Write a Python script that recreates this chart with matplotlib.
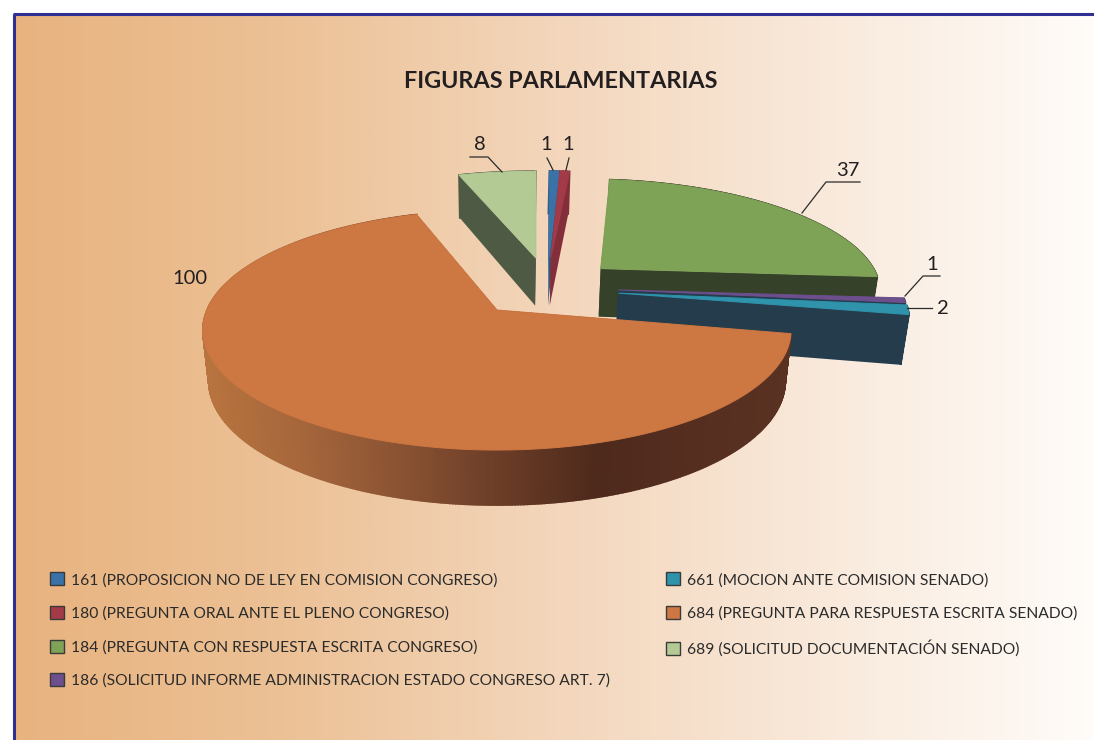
import matplotlib
matplotlib.use('Agg')
import matplotlib.pyplot as plt
import numpy as np
from matplotlib.colors import LinearSegmentedColormap
from matplotlib.patches import Patch

plt.rcParams['font.family'] = ['Lato', 'DejaVu Sans']

title = 'FIGURAS PARLAMENTARIAS'
labels = ['161 (PROPOSICION NO DE LEY EN COMISION CONGRESO)',
          '180 (PREGUNTA ORAL ANTE EL PLENO CONGRESO)',
          '184 (PREGUNTA CON RESPUESTA ESCRITA CONGRESO)',
          '186 (SOLICITUD INFORME ADMINISTRACION ESTADO CONGRESO ART. 7)',
          '661 (MOCION ANTE COMISION SENADO)',
          '684 (PREGUNTA PARA RESPUESTA ESCRITA SENADO)',
          '689 (SOLICITUD DOCUMENTACIÓN SENADO)']
values = [1, 1, 37, 1, 2, 100, 8]

top_colors = ['#3A72A8', '#A23B47', '#7FA356', '#6C4F8C', '#2F93AB', '#CD7742', '#B3CA95']
wall_colors = ['#2E5A84', '#842E3C', '#36412A', '#243C4C', '#243C4C', '#4E2A1C', '#4F5A44']

# how far each slice is pulled out, and a small turn, in pie units
explode_u = [0.194, 0.201, 0.38, 0.43, 0.429, 0.0, 0.145]
explode_v = [0.487, 0.487, 0.377, 0.177, 0.148, 0.0, 0.481]
spin = [-1.8, -1.6, -0.8, -0.5, 0.0, -0.5, -1.3]
draw_order = [2, 6, 0, 1, 3, 4, 5]

# centre and perspective of the pie, in pixels
cx, cy = 497, 310
rx, ry = 290, 116.7
k = 1 / 6


def project(u, v, low=False):
    d = 1 + k * v
    x = rx * u / d
    y = cy - ry * v / d
    if low:
        x = x * 0.98
        y = y + 50 - 5 * v
    return cx + x, y


def slice_outline(a0, a1, du, dv):
    t = np.radians(np.linspace(a0, a1, max(int(abs(a1 - a0) * 2), 4)))
    return du + np.cos(t), dv + np.sin(t)


def draw_slice(ax, a0, a1, du, dv, top, wall, z):
    u, v = slice_outline(a0, a1, du, dv)
    # straight cut faces
    for i in [0, -1]:
        x0, y0 = project(du, dv)
        x1, y1 = project(u[i], v[i])
        x2, y2 = project(u[i], v[i], low=True)
        x3, y3 = project(du, dv, low=True)
        ax.fill([x0, x1, x2, x3], [y0, y1, y2, y3], color=wall, lw=0, zorder=z)
    # curved outer wall, strip by strip
    xt, yt = project(u, v)
    xb, yb = project(u, v, low=True)
    for i in range(len(u) - 1):
        xm = (xt[i] + xt[i + 1]) / 2
        c = wall_cmap((xm - 203) / 590) if top == top_colors[5] else wall
        ax.fill([xt[i], xt[i + 1], xb[i + 1], xb[i]],
                [yt[i], yt[i + 1], yb[i + 1], yb[i]], color=c, lw=1.2, zorder=z)
    ax.fill(np.r_[project(du, dv)[0], xt], np.r_[project(du, dv)[1], yt],
            color=top, lw=0.7, zorder=z + 0.5)


wall_cmap = LinearSegmentedColormap.from_list(
    'wall', ['#B8743F', '#A5663B', '#8A5233', '#6B3D27', '#4E2A1C', '#552E20', '#5A3222'])
bg_cmap = LinearSegmentedColormap.from_list(
    'bg', [(0, '#E8B37F'), (0.25, '#ECC196'), (0.5, '#F3D6BB'), (0.8, '#FAEDE1'), (1, '#FFFCF9')])

fig = plt.figure(figsize=(10.94, 7.4), dpi=100)
ax = fig.add_axes([0, 0, 1, 1])
ax.set_xlim(0, 1094)
ax.set_ylim(740, 0)
ax.axis('off')

ax.imshow(np.linspace(0, 1, 512).reshape(1, -1), cmap=bg_cmap, aspect='auto',
          extent=[14, 1094, 740, 14], zorder=0)
ax.plot([14, 14], [740, 14], color='#2E3192', lw=2.2, zorder=1, solid_capstyle='butt')
ax.plot([13, 1094], [14, 14], color='#2E3192', lw=2.2, zorder=1, solid_capstyle='butt')
ax.set_xlim(0, 1094)
ax.set_ylim(740, 0)

ax.text(561, 82, title, fontsize=16.8, fontweight='bold', color='#231F20',
        ha='center', va='center', zorder=10)

# slices run clockwise from the top
total = sum(values)
edges = 90 - np.cumsum([0] + values) / total * 360
for n, i in enumerate(draw_order):
    draw_slice(ax, edges[i] + spin[i], edges[i + 1] + spin[i], explode_u[i], explode_v[i],
               top_colors[i], wall_colors[i], 2 + n)

# value labels with their leader lines
line_c = '#2B2B2B'
ax.plot([470, 488, 502], [157, 157, 172], color=line_c, lw=0.9, zorder=12)
ax.plot([547, 553], [158, 170], color=line_c, lw=0.9, zorder=12)
ax.plot([569, 566], [158, 170], color=line_c, lw=0.9, zorder=12)
ax.plot([860, 826, 802], [182, 182, 213], color=line_c, lw=0.9, zorder=12)
ax.plot([940, 923, 905], [276, 276, 296], color=line_c, lw=0.9, zorder=12)
ax.plot([907, 932], [308, 308], color=line_c, lw=0.9, zorder=12)
value_pos = [(546, 145), (568, 145), (848, 170), (932, 264), (943, 309), (190, 278), (480, 145)]
for val, (x, y) in zip(values, value_pos):
    ax.text(x, y, str(val), fontsize=14.5, color='#231F20', ha='center', va='center', zorder=12)

handles = [Patch(facecolor=c, edgecolor='#3A3A3A', lw=1.0) for c in top_colors]
ax.legend(handles, labels, ncol=2, frameon=False, fontsize=11.25, labelcolor='#2B2B2B',
          loc='upper left', bbox_to_anchor=(0.0455, 0.2265), borderpad=0, borderaxespad=0,
          handlelength=0.9, handleheight=0.9, handletextpad=0.48,
          labelspacing=1.2, columnspacing=3.55)

fig.savefig('out.png', dpi=100)
